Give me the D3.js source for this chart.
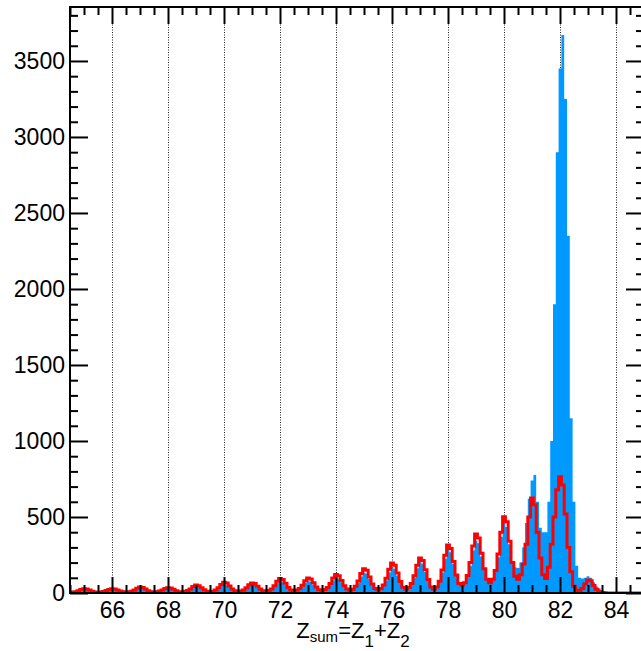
<!DOCTYPE html>
<html><head><meta charset="utf-8">
<script src="https://cdn.jsdelivr.net/npm/d3@7"></script>
<style>
body{margin:0;background:#fff;}
svg{display:block;}
text{font-family:"Liberation Sans",Arial,Helvetica,sans-serif;fill:#000;}
</style>
</head><body>
<svg id="chart" width="641" height="651"></svg>
<script>
// ---- data (bins of width 0.1, first bin centred on 64.5) ----
const binStart = 64.45;
const binWidth = 0.1;

const blueCounts = [
  4, 5, 8, 13, 19, 22, 21, 16, 10, 6,
  6, 6, 9, 14, 19, 22, 22, 17, 11, 7,
  6, 7, 10, 17, 26, 32, 30, 22, 13, 8,
  7, 8, 11, 16, 24, 28, 27, 20, 13, 9,
  8, 9, 14, 23, 35, 42, 40, 29, 18, 10,
  9, 11, 17, 30, 47, 58, 55, 39, 23, 13,
  11, 13, 18, 30, 46, 55, 52, 38, 24, 15,
  13, 16, 24, 41, 65, 80, 75, 54, 32, 18,
  16, 18, 27, 44, 67, 80, 76, 56, 35, 22,
  20, 24, 34, 55, 84, 100, 95, 70, 43, 26,
  21, 26, 40, 68, 109, 135, 128, 92, 54, 30,
  25, 31, 48, 84, 135, 170, 160, 115, 68, 38,
  29, 37, 58, 100, 162, 205, 192, 138, 82, 45,
  30, 40, 72, 135, 225, 285, 268, 192, 112, 64,
  60, 70, 108, 180, 280, 345, 328, 240, 152, 92,
  80, 95, 140, 235, 370, 460, 435, 320, 210, 170,
  165, 200, 300, 460, 620, 740, 776, 600, 430, 400,
  400, 600, 1000, 1900, 2900, 3450, 3670, 3250, 2350, 1150,
  600, 180, 100, 95, 100, 110, 100, 70, 45, 30,
  20, 12, 6, 2, 0, 0, 0, 0, 0, 0,
  0, 0, 0, 0, 0, 0
];

const redCounts = [
  5, 6, 9, 15, 23, 28, 26, 19, 12, 7,
  6, 7, 10, 16, 23, 28, 27, 20, 13, 8,
  6, 8, 12, 20, 32, 40, 37, 26, 15, 8,
  7, 9, 13, 19, 29, 35, 33, 24, 15, 9,
  8, 10, 16, 27, 42, 52, 48, 35, 21, 11,
  8, 11, 19, 35, 56, 70, 65, 46, 26, 14,
  10, 13, 20, 34, 54, 66, 62, 45, 27, 15,
  12, 16, 27, 48, 77, 96, 89, 64, 37, 19,
  15, 19, 30, 51, 80, 99, 92, 67, 40, 22,
  18, 23, 36, 62, 98, 121, 113, 82, 48, 27,
  18, 25, 44, 79, 128, 160, 149, 106, 60, 30,
  22, 30, 53, 97, 157, 197, 183, 131, 75, 38,
  26, 36, 63, 114, 183, 230, 214, 153, 88, 40,
  26, 40, 78, 152, 248, 315, 292, 208, 118, 62,
  53, 68, 115, 200, 310, 388, 362, 262, 160, 90,
  68, 90, 148, 256, 400, 502, 468, 340, 200, 110,
  90, 120, 190, 320, 500, 625, 580, 400, 230, 120,
  95, 170, 320, 500, 680, 765, 710, 520, 300, 140,
  45, 18, 10, 30, 60, 86, 80, 50, 25, 8,
  3, 1, 0, 0, 0, 0, 0, 0, 0, 0,
  0, 0, 0, 0, 0, 0
];

const xMajorTicks = [66, 68, 70, 72, 74, 76, 78, 80, 82, 84];
const yMajorTicks = [0, 500, 1000, 1500, 2000, 2500, 3000, 3500];
const xDomain = [64.5, 85];
const yDomain = [0, 3855];

// ---- layout ----
const L = 70, R = 644, T = 7, B = 593;
const svg = d3.select("#chart");
const x = d3.scaleLinear().domain(xDomain).range([L, R]);
const y = d3.scaleLinear().domain(yDomain).range([B, T]);

const xMinor = d3.range(xDomain[0], xDomain[1] + 0.001, 0.5).filter(v => !xMajorTicks.includes(v));
const yMinor = d3.range(0, yDomain[1], 100).filter(v => v % 500 !== 0);

svg.append("defs").append("clipPath").attr("id", "plotClip")
  .append("rect").attr("x", L).attr("y", T).attr("width", R - L).attr("height", B - T);

// grid
svg.append("g").selectAll("line").data(xMajorTicks).join("line")
  .attr("x1", d => Math.round(x(d)) + 0.5).attr("x2", d => Math.round(x(d)) + 0.5)
  .attr("y1", T).attr("y2", B)
  .attr("stroke", "#222").attr("stroke-width", 1).attr("stroke-dasharray", "1,1.5");

function pts(counts) {
  const p = counts.map((v, i) => [binStart + i * binWidth, v]);
  p.push([binStart + counts.length * binWidth, counts[counts.length - 1]]);
  return p;
}

const dataG = svg.append("g").attr("clip-path", "url(#plotClip)");
const area = d3.area().curve(d3.curveStepAfter)
  .x(d => x(d[0])).y0(y(0)).y1(d => y(d[1]));
dataG.append("path").datum(pts(blueCounts)).attr("d", area)
  .attr("fill", "#0099ff").attr("stroke", "none");

const line = d3.line().curve(d3.curveStepAfter).x(d => x(d[0])).y(d => y(d[1]));
dataG.append("path").datum(pts(redCounts)).attr("d", line)
  .attr("fill", "none").attr("stroke", "#ff0000").attr("stroke-width", 3)
  .attr("stroke-linejoin", "miter");

// axes
function styleAxis(g) {
  g.select(".domain").remove();
  g.selectAll(".tick line").attr("stroke", "#000").attr("stroke-width", 2);
  g.selectAll(".tick text").attr("font-size", 23).attr("fill", "#000")
    .attr("font-family", '"Liberation Sans",Arial,Helvetica,sans-serif');
}
svg.append("g").attr("transform", `translate(0,${B})`)
  .call(d3.axisBottom(x).tickValues(xMajorTicks).tickSize(-16).tickPadding(9).tickFormat(d3.format("d")))
  .call(styleAxis);
svg.append("g").attr("transform", `translate(0,${B})`)
  .call(d3.axisBottom(x).tickValues(xMinor).tickSize(-8).tickFormat(""))
  .call(styleAxis);
svg.append("g").attr("transform", `translate(0,${T})`)
  .call(d3.axisTop(x).tickValues(xMajorTicks).tickSize(-17).tickFormat(""))
  .call(styleAxis);
svg.append("g").attr("transform", `translate(0,${T})`)
  .call(d3.axisTop(x).tickValues(xMinor).tickSize(-8).tickFormat(""))
  .call(styleAxis);
svg.append("g").attr("transform", `translate(${L},0)`)
  .call(d3.axisLeft(y).tickValues(yMajorTicks).tickSize(-18).tickPadding(5).tickFormat(d3.format("d")))
  .call(styleAxis);
svg.append("g").attr("transform", `translate(${L},0)`)
  .call(d3.axisLeft(y).tickValues(yMinor).tickSize(-8).tickFormat(""))
  .call(styleAxis);
svg.append("g").attr("transform", `translate(${R},0)`)
  .call(d3.axisRight(y).tickValues(yMajorTicks).tickSize(-18).tickFormat(""))
  .call(styleAxis);
svg.append("g").attr("transform", `translate(${R},0)`)
  .call(d3.axisRight(y).tickValues(yMinor).tickSize(-8).tickFormat(""))
  .call(styleAxis);

// frame
svg.append("rect").attr("x", L).attr("y", T).attr("width", R - L).attr("height", B - T)
  .attr("fill", "none").attr("stroke", "#000").attr("stroke-width", 2);

// x title
const title = svg.append("text").attr("x", 353).attr("y", 638)
  .attr("text-anchor", "middle").attr("font-size", 22);
title.append("tspan").text("Z");
title.append("tspan").attr("font-size", 15).attr("dy", 4).text("sum");
title.append("tspan").attr("dy", -4).text("=Z");
title.append("tspan").attr("font-size", 17).attr("dy", 9).text("1");
title.append("tspan").attr("dy", -9).text("+Z");
title.append("tspan").attr("font-size", 17).attr("dy", 9).text("2");
</script>
</body></html>
